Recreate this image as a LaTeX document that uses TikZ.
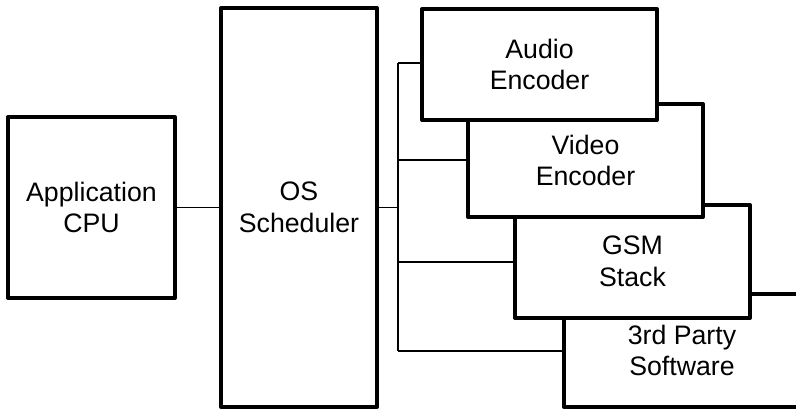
\documentclass[tikz,border=0pt]{standalone}
\usepackage{fontspec}
\setmainfont{Liberation Sans}
\begin{document}
\begin{tikzpicture}[x=1pt,y=-1pt,
  blk/.style={draw, line width=4pt, fill=white, line join=round, outer sep=0pt, inner sep=0pt,
    align=center, font=\fontsize{26.7}{31.7}\selectfont},
  wire/.style={line width=1.5pt}]
\useasboundingbox (0,0) rectangle (796,411);
% nodes (drawn bottom to top so that overlaps match)
\node[blk, minimum width=167pt, minimum height=181pt] (app) at (91.5,207.5) {Application\\CPU};
\node[blk, minimum width=156pt, minimum height=399pt] (os) at (299,207.5) {OS\\Scheduler};
\node[blk, minimum width=236pt, minimum height=113pt] (third) at (682,350.5) {3rd Party\\Software};
\node[blk, minimum width=235pt, minimum height=113pt] (gsm) at (632.5,261.5) {GSM\\Stack};
\node[blk, minimum width=235pt, minimum height=113pt] (video) at (585.5,160.5) {Video\\Encoder};
\node[blk, minimum width=235pt, minimum height=111pt] (audio) at (539.5,64.5) {Audio\\Encoder};
% bus coordinates
\coordinate (bA) at (398,63);
\coordinate (bO) at (398,207.5);
\coordinate (bV) at (398,160);
\coordinate (bG) at (398,262);
\coordinate (bT) at (398,351);
% connectors
\draw[wire] (app.east) -- (os.west);
\draw[wire] (os.east) -- (bO);
\draw[wire] (bA) -- (bT);
\draw[wire] (bA) -- (bA -| audio.west);
\draw[wire] (bV) -- (bV -| video.west);
\draw[wire] (bG) -- (bG -| gsm.west);
\draw[wire] (bT) -- (bT -| third.west);
\end{tikzpicture}
\end{document}
